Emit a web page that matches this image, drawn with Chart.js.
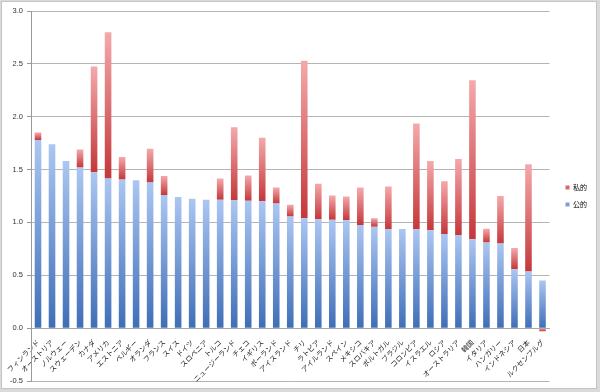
<!DOCTYPE html>
<html>
<head>
<meta charset="utf-8">
<script src="https://cdn.jsdelivr.net/npm/chart.js@4"></script>
<style>
  body { margin: 0; background: #dadada; }
  #frame { position: absolute; left: 1px; top: 1px; width: 594px; height: 386px; background: #fff; border: 1px solid #c4c4c4; }
  #wrap { position: absolute; left: 0; top: 0; width: 600px; height: 392px; }
</style>
</head>
<body>
<div id="frame"></div>
<div id="wrap"><canvas id="graph" width="600" height="392"></canvas></div>
<script>
const countries = ['フィンランド', 'オーストリア', 'ノルウェー', 'スウェーデン', 'カナダ', 'アメリカ', 'エストニア',
    'ベルギー', 'オランダ', 'フランス', 'スイス', 'ドイツ', 'スロベニア', 'トルコ', 'ニュージーランド', 'チェコ',
    'イギリス', 'ポーランド', 'アイスランド', 'チリ', 'ラトビア', 'アイルランド', 'スペイン', 'メキシコ',
    'スロバキア', 'ポルトガル', 'ブラジル', 'コロンビア', 'イスラエル', 'ロシア', 'オーストラリア', '韓国',
    'イタリア', 'ハンガリー', 'インドネシア', '日本', 'ルクセンブルグ'];

// 公的 (public) spending, % of GDP
const publicVals = [1.78, 1.74, 1.58, 1.52, 1.475, 1.415, 1.405, 1.40, 1.377, 1.26, 1.24, 1.225, 1.215,
    1.215, 1.21, 1.205, 1.20, 1.18, 1.057, 1.04, 1.03, 1.025, 1.02, 0.975, 0.96, 0.935, 0.937, 0.935,
    0.925, 0.89, 0.88, 0.84, 0.81, 0.80, 0.557, 0.535, 0.45];

// 私的 (private) spending, % of GDP
const privateVals = [0.07, 0, 0, 0.17, 1.0, 1.385, 0.215, 0, 0.32, 0.18, 0, 0, 0, 0.2, 0.69, 0.24,
    0.60, 0.15, 0.11, 1.49, 0.335, 0.23, 0.225, 0.355, 0.08, 0.405, 0, 1.0, 0.655, 0.5, 0.72, 1.505,
    0.13, 0.45, 0.2, 1.015, -0.03];

const yTicks = [-0.5, 0, 0.5, 1.0, 1.5, 2.0, 2.5, 3.0];

const jpFont = '"Noto Sans CJK JP", "Noto Sans", sans-serif';

// each bar gets its own light-to-dark gradient, like the Excel original
function barGradient(context, light, dark) {
    const chart = context.chart;
    const y = chart.scales.y;
    if (!chart.chartArea || !y || context.type !== 'data') return dark;
    const i = context.dataIndex;
    let lo, hi;
    if (context.datasetIndex === 0) {
        lo = 0; hi = publicVals[i];
    } else {
        const p = privateVals[i];
        if (p >= 0) { lo = publicVals[i]; hi = lo + p; } else { lo = 0; hi = p; }
    }
    const top = y.getPixelForValue(Math.max(lo, hi));
    const bottom = y.getPixelForValue(Math.min(lo, hi));
    if (!(bottom > top)) return dark;
    const g = chart.ctx.createLinearGradient(0, top, 0, bottom);
    g.addColorStop(0, light);
    g.addColorStop(1, dark);
    return g;
}

// push the legend a bit further away from the plot without spreading its items
const legendShift = {
    id: 'legendShift',
    afterLayout(chart) {
        if (!chart.legend) return;
        chart.legend.left += 6;
        chart.legend.right += 6;
    }
};

const ctx = document.getElementById('graph').getContext('2d');
const chart = new Chart(ctx, {
    type: 'bar',
    data: {
        labels: countries,
        datasets: [{
            label: '公的',
            data: publicVals,
            backgroundColor: (c) => barGradient(c, '#abc6f2', '#3f6eb7'),
            borderWidth: 0,
            barPercentage: 0.47,
            categoryPercentage: 1
        }, {
            label: '私的',
            data: privateVals,
            backgroundColor: (c) => barGradient(c, '#f4a9ac', '#c4373a'),
            borderWidth: 0,
            barPercentage: 0.47,
            categoryPercentage: 1
        }]
    },
    plugins: [legendShift],
    options: {
        responsive: false,
        animation: false,
        layout: { padding: { left: 2, top: 11, bottom: 11, right: 9 } },
        plugins: {
            tooltip: { enabled: false },
            legend: {
                position: 'right',
                reverse: true,
                labels: {
                    boxWidth: 4,
                    boxHeight: 4,
                    padding: 10,
                    color: '#222',
                    font: { family: jpFont, size: 7 },
                    generateLabels: (ch) => ch.data.datasets.map((ds, i) => ({
                        text: ds.label,
                        fillStyle: i === 0 ? '#7f9fd6' : '#d7686b',
                        strokeStyle: 'transparent',
                        lineWidth: 0,
                        datasetIndex: i
                    }))
                }
            }
        },
        scales: {
            x: {
                stacked: true,
                position: { y: 0 },
                afterFit: (scale) => { scale.height = 0; },
                grid: { display: false },
                border: { display: true, color: '#a8a8a8' },
                ticks: {
                    autoSkip: false,
                    maxRotation: 45,
                    minRotation: 45,
                    padding: 2,
                    color: '#222',
                    font: { family: jpFont, size: 7 }
                }
            },
            y: {
                stacked: true,
                min: -0.5,
                max: 3.0,
                afterFit: (scale) => { scale.width = 29; },
                afterBuildTicks: (scale) => { scale.ticks = yTicks.map(v => ({ value: v })); },
                grid: { color: '#b4b4b4', tickLength: 4, tickColor: '#999' },
                border: { color: '#999' },
                ticks: {
                    padding: 4,
                    color: '#333',
                    font: { family: '"Liberation Sans", Arial, sans-serif', size: 7.5 },
                    callback: (v) => Number(v).toFixed(1)
                }
            }
        }
    }
});
</script>
</body>
</html>
